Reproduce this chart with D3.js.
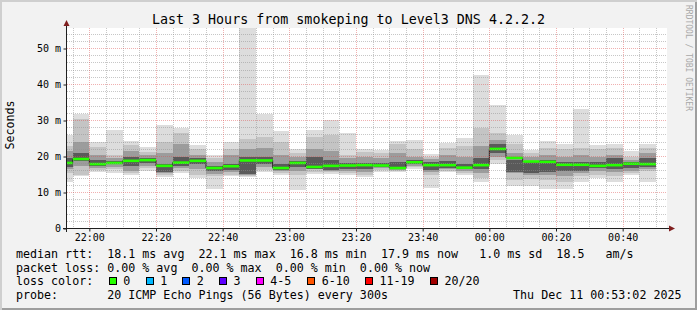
<!DOCTYPE html>
<html>
<head>
<meta charset="utf-8">
<script src="https://cdn.jsdelivr.net/npm/d3@7"></script>
<style>
  html, body { margin: 0; padding: 0; background: #f2f2f2; }
  svg { display: block; }
  text { font-family: "DejaVu Sans Mono", monospace; white-space: pre; }
</style>
</head>
<body>
<svg id="chart" width="697" height="310"></svg>
<script>
// 5-minute steps (start time of each step), the first one is cut by the left edge
const stepStart = ['21:50', '21:55', '22:00', '22:05', '22:10', '22:15', '22:20', '22:25', '22:30',
  '22:35', '22:40', '22:45', '22:50', '22:55', '23:00', '23:05', '23:10', '23:15', '23:20',
  '23:25', '23:30', '23:35', '23:40', '23:45', '23:50', '23:55', '00:00', '00:05', '00:10',
  '00:15', '00:20', '00:25', '00:30', '00:35', '00:40', '00:45'];

// median rtt per step (ms)
const median = [18.2, 19.3, 17.9, 18.2, 18.8, 19.0, 17.4, 18.3, 18.8, 16.8, 17.3, 18.9,
  18.9, 16.8, 18.2, 17.1, 17.4, 17.5, 17.6, 17.5, 16.8, 18.4, 17.6, 17.6,
  16.9, 17.6, 22.1, 19.6, 18.6, 18.5, 17.7, 17.7, 17.4, 17.6, 18.0, 17.9];

// smoke bands (ms): outer = fastest/slowest ping, then towards the median
const outerLo = [13.0, 14.5, 15.6, 15.3, 15.0, 16.0, 14.3, 15.3, 13.9, 11.1, 14.5, 14.3,
  15.7, 14.8, 10.6, 15.2, 15.2, 14.8, 14.3, 15.7, 15.7, 16.6, 11.3, 15.7,
  14.8, 12.8, 18.0, 11.7, 11.8, 10.9, 10.9, 12.8, 13.9, 13.0, 14.8, 13.0];
const outerHi = [26.1, 31.9, 23.9, 27.3, 24.2, 22.6, 28.7, 27.8, 23.1, 20.4, 23.9, 58.0,
  31.9, 27.0, 22.2, 27.3, 30.1, 26.6, 22.2, 21.9, 24.2, 24.5, 20.6, 23.8,
  25.2, 42.6, 34.2, 25.9, 21.8, 24.2, 23.6, 33.3, 23.1, 23.6, 21.5, 23.4];
const midLo = [15.5, 15.0, 16.2, 16.5, 15.3, 16.8, 14.8, 16.0, 15.0, 14.5, 15.0, 14.6,
  16.3, 15.5, 15.0, 15.8, 15.6, 15.5, 15.0, 16.2, 16.0, 17.0, 15.0, 16.0,
  15.5, 14.0, 19.0, 13.5, 13.8, 13.5, 13.0, 14.5, 15.0, 14.5, 15.3, 16.0];
const midHi = [23.0, 30.5, 22.7, 20.5, 23.2, 21.3, 24.0, 26.5, 22.0, 19.5, 22.2, 25.0,
  25.4, 24.0, 21.0, 25.5, 25.9, 20.4, 21.2, 21.0, 23.5, 22.2, 20.0, 22.3,
  23.0, 28.0, 26.5, 23.5, 21.0, 22.5, 22.0, 22.5, 22.0, 22.5, 20.0, 22.5];
const innerLo = [16.5, 17.5, 16.8, 17.2, 16.0, 17.5, 15.5, 16.8, 16.5, 15.2, 15.8, 15.0,
  17.0, 16.0, 16.0, 16.5, 16.0, 16.0, 15.8, 16.7, 16.3, 17.5, 15.8, 16.5,
  16.0, 15.5, 20.0, 15.3, 14.8, 15.0, 14.5, 15.5, 16.0, 15.8, 16.0, 16.5];
const innerHi = [21.5, 24.0, 20.5, 19.6, 21.5, 20.5, 21.0, 23.5, 20.5, 18.5, 20.5, 22.0,
  22.5, 20.5, 19.8, 22.0, 21.5, 19.5, 20.0, 19.5, 21.0, 20.0, 19.2, 20.5,
  20.0, 23.0, 24.5, 21.0, 20.0, 20.5, 20.0, 20.3, 20.0, 20.5, 19.0, 21.0];
const coreLo = [17.2, 18.8, 17.3, 17.8, 17.5, 18.2, 15.8, 17.5, 17.8, 16.0, 16.3, 15.2,
  18.0, 16.3, 17.2, 16.5, 16.2, 16.6, 16.5, 17.0, 16.5, 18.0, 16.3, 16.8,
  16.4, 16.5, 21.0, 15.7, 15.5, 15.8, 16.0, 16.0, 16.8, 16.5, 16.8, 17.0];
const coreHi = [19.5, 21.0, 19.0, 18.8, 19.8, 19.7, 18.0, 20.0, 19.5, 17.3, 18.0, 20.0,
  20.0, 18.0, 18.8, 20.0, 19.0, 18.3, 18.3, 18.2, 18.5, 19.0, 18.5, 18.8,
  18.0, 19.5, 23.5, 19.0, 18.5, 19.0, 18.5, 18.5, 18.5, 19.5, 18.5, 19.5];

const yTicks = [0, 10, 20, 30, 40, 50];
const timeTicks = ['22:00', '22:20', '22:40', '23:00', '23:20', '23:40', '00:00', '00:20', '00:40'];

const lossLabels = ['0', '1', '2', '3', '4-5', '6-10', '11-19', '20/20'];
const lossColors = ['#26ff00', '#00b8ff', '#0059ff', '#5e00ff', '#ff00ff', '#ff5500', '#ff0000', '#a10000'];

const legendLines = [
  'median rtt:  18.1 ms avg  22.1 ms max  16.8 ms min  17.9 ms now   1.0 ms sd  18.5   am/s',
  'packet loss: 0.00 % avg  0.00 % max  0.00 % min  0.00 % now'
];
const probeText = 'probe:       20 ICMP Echo Pings (56 Bytes) every 300s';
const stampText = 'Thu Dec 11 00:53:02 2025';
const title = 'Last 3 Hours from smokeping to Level3 DNS 4.2.2.2';

// times before noon belong to the next day
const toDate = s => {
  const [h, m] = s.split(':').map(Number);
  return new Date(2025, 11, h >= 12 ? 10 : 11, h, m, 0);
};

const svg = d3.select('#chart');
const W = 697, H = 310;
const plot = { left: 67, right: 667, top: 28, bottom: 228 };

// background and 3d border
svg.append('rect').attr('width', W).attr('height', H).attr('fill', '#f2f2f2');
svg.append('path').attr('d', `M0,1H${W}M1,0V${H}`).attr('stroke', '#cfcfcf').attr('stroke-width', 2);
svg.append('path').attr('d', `M2,${H - 1}H${W}M${W - 1},2V${H}`).attr('stroke', '#9e9e9e').attr('stroke-width', 2);

const t0 = new Date(2025, 11, 10, 21, 53, 18);
const t1 = new Date(2025, 11, 11, 0, 53, 18);
const x = d3.scaleTime().domain([t0, t1]).range([plot.left, plot.right]);
const y = d3.scaleLinear().domain([0, 200 / 3.6]).range([plot.bottom + 0.5, plot.top + 0.5]);

svg.append('rect')
  .attr('x', plot.left).attr('y', plot.top)
  .attr('width', plot.right - plot.left).attr('height', plot.bottom - plot.top)
  .attr('fill', '#ffffff');

const steps = stepStart.map((s, i) => {
  const a = toDate(s);
  const b = new Date(a.getTime() + 300000);
  return { a, b, i };
});
const x0 = d => Math.max(x(d.a), plot.left);

// smoke, outer layer first
const layers = [
  { lo: outerLo, hi: outerHi, color: '#dddddd' },
  { lo: midLo, hi: midHi, color: '#c4c4c4' },
  { lo: innerLo, hi: innerHi, color: '#9c9c9c' },
  { lo: coreLo, hi: coreHi, color: '#5a5a5a' }
];
const gSmoke = svg.append('g').attr('shape-rendering', 'crispEdges');
layers.forEach(layer => {
  gSmoke.append('g').selectAll('rect')
    .data(steps)
    .enter()
    .append('rect')
    .attr('x', d => x0(d))
    .attr('width', d => x(d.b) - x0(d))
    .attr('y', d => Math.max(y(layer.hi[d.i]), plot.top))
    .attr('height', d => y(layer.lo[d.i]) - Math.max(y(layer.hi[d.i]), plot.top))
    .attr('fill', layer.color);
});

// median: thin dark step line, then the loss coloured band
const medPts = [];
steps.forEach(d => {
  medPts.push([x0(d), y(median[d.i])]);
  medPts.push([x(d.b), y(median[d.i])]);
});
svg.append('path')
  .attr('d', d3.line()(medPts))
  .attr('fill', 'none')
  .attr('stroke', '#202020')
  .attr('stroke-width', 1);
svg.append('g').selectAll('rect')
  .data(steps)
  .enter()
  .append('rect')
  .attr('x', d => x0(d))
  .attr('width', d => x(d.b) - x0(d))
  .attr('y', d => y(median[d.i]) - 1.3)
  .attr('height', 2.6)
  .attr('fill', lossColors[0]);

// grid (drawn over the smoke like rrdtool does)
const gGrid = svg.append('g').attr('shape-rendering', 'crispEdges');
const px = v => Math.round(v) + 0.5;
const minorT = d3.timeMinute.every(5).range(t0, t1).filter(d => d.getMinutes() % 20 !== 0);
const majorT = d3.timeMinute.every(20).range(t0, t1);
const minorY = d3.range(2, 56, 2).filter(d => d % 10 !== 0);
const minorCol = 'rgba(143,143,143,0.5)';
const majorCol = 'rgba(222,79,79,0.45)';
gGrid.selectAll('.vmin').data(minorT).enter().append('line')
  .attr('x1', d => px(x(d))).attr('x2', d => px(x(d)))
  .attr('y1', plot.top).attr('y2', plot.bottom)
  .attr('stroke', minorCol).attr('stroke-dasharray', '1,1');
gGrid.selectAll('.hmin').data(minorY).enter().append('line')
  .attr('x1', plot.left).attr('x2', plot.right)
  .attr('y1', d => px(y(d) - 0.5)).attr('y2', d => px(y(d) - 0.5))
  .attr('stroke', minorCol).attr('stroke-dasharray', '1,1');
gGrid.selectAll('.vmaj').data(majorT).enter().append('line')
  .attr('x1', d => px(x(d))).attr('x2', d => px(x(d)))
  .attr('y1', plot.top).attr('y2', plot.bottom)
  .attr('stroke', majorCol).attr('stroke-dasharray', '1,1');
gGrid.selectAll('.hmaj').data(yTicks.slice(1)).enter().append('line')
  .attr('x1', plot.left).attr('x2', plot.right)
  .attr('y1', d => px(y(d) - 0.5)).attr('y2', d => px(y(d) - 0.5))
  .attr('stroke', majorCol).attr('stroke-dasharray', '1,1');

// axes
const yAxis = svg.append('g')
  .attr('transform', `translate(${plot.left - 0.5},0)`)
  .call(d3.axisLeft(y).tickValues(yTicks).tickSize(3).tickPadding(2.5)
    .tickFormat(d => d === 0 ? '0' : d + ' m'));
yAxis.select('.domain').remove();
yAxis.selectAll('line').attr('stroke', '#1f1f1f');
yAxis.selectAll('text').style('font-size', '10px').attr('fill', '#000');

const xAxis = svg.append('g')
  .attr('transform', `translate(0,${plot.bottom + 0.5})`)
  .call(d3.axisBottom(x).tickValues(timeTicks.map(toDate)).tickSize(3).tickPadding(2.4)
    .tickFormat(d3.timeFormat('%H:%M')));
xAxis.select('.domain').remove();
xAxis.selectAll('line').attr('stroke', '#1f1f1f');
xAxis.selectAll('text').style('font-size', '10px').attr('fill', '#000');

svg.append('line')
  .attr('x1', plot.left - 0.5).attr('x2', plot.left - 0.5)
  .attr('y1', plot.bottom + 4).attr('y2', 24)
  .attr('stroke', '#1f1f1f');
svg.append('line')
  .attr('x1', plot.left - 4).attr('x2', plot.right + 3)
  .attr('y1', plot.bottom + 0.5).attr('y2', plot.bottom + 0.5)
  .attr('stroke', '#1f1f1f');
svg.append('path')
  .attr('d', `M${plot.left - 3.5},26L${plot.left + 2.5},26L${plot.left - 0.5},20Z`)
  .attr('fill', '#801f1f');
svg.append('path')
  .attr('d', `M${plot.right + 2},${plot.bottom - 2.5}L${plot.right + 2},${plot.bottom + 3.5}L${plot.right + 8},${plot.bottom + 0.5}Z`)
  .attr('fill', '#801f1f');

// texts
svg.append('text')
  .attr('x', 348.5).attr('y', 24)
  .attr('text-anchor', 'middle')
  .style('font-size', '13.33px')
  .text(title);

svg.append('text')
  .attr('transform', 'translate(14,125) rotate(-90)')
  .attr('text-anchor', 'middle')
  .style('font-size', '11.67px')
  .text('Seconds');

svg.append('text')
  .attr('transform', 'translate(685.5,5) rotate(90)')
  .style('font-size', '8px')
  .attr('fill', '#a8a8a8')
  .text('RRDTOOL / TOBI OETIKER');

const legendFont = '11.67px';
legendLines.forEach((s, i) => {
  svg.append('text')
    .attr('x', 16).attr('y', 258 + i * 13.7)
    .style('font-size', legendFont)
    .text(s);
});

svg.append('text')
  .attr('x', 16).attr('y', 285.4)
  .style('font-size', legendFont)
  .text('loss color:');
const swatchX = [108.7, 145.7, 182.3, 219, 255.7, 307.3, 365, 430];
lossLabels.forEach((lab, i) => {
  svg.append('rect')
    .attr('x', Math.round(swatchX[i]) + 0.5).attr('y', 277.5)
    .attr('width', 7).attr('height', 7)
    .attr('fill', lossColors[i])
    .attr('stroke', '#000').attr('stroke-width', 1);
  svg.append('text')
    .attr('x', swatchX[i] + 14.5).attr('y', 285.4)
    .style('font-size', legendFont)
    .text(lab);
});

svg.append('text')
  .attr('x', 16).attr('y', 299)
  .style('font-size', legendFont)
  .text(probeText);
svg.append('text')
  .attr('x', 681.5).attr('y', 299)
  .attr('text-anchor', 'end')
  .style('font-size', legendFont)
  .text(stampText);
</script>
</body>
</html>
